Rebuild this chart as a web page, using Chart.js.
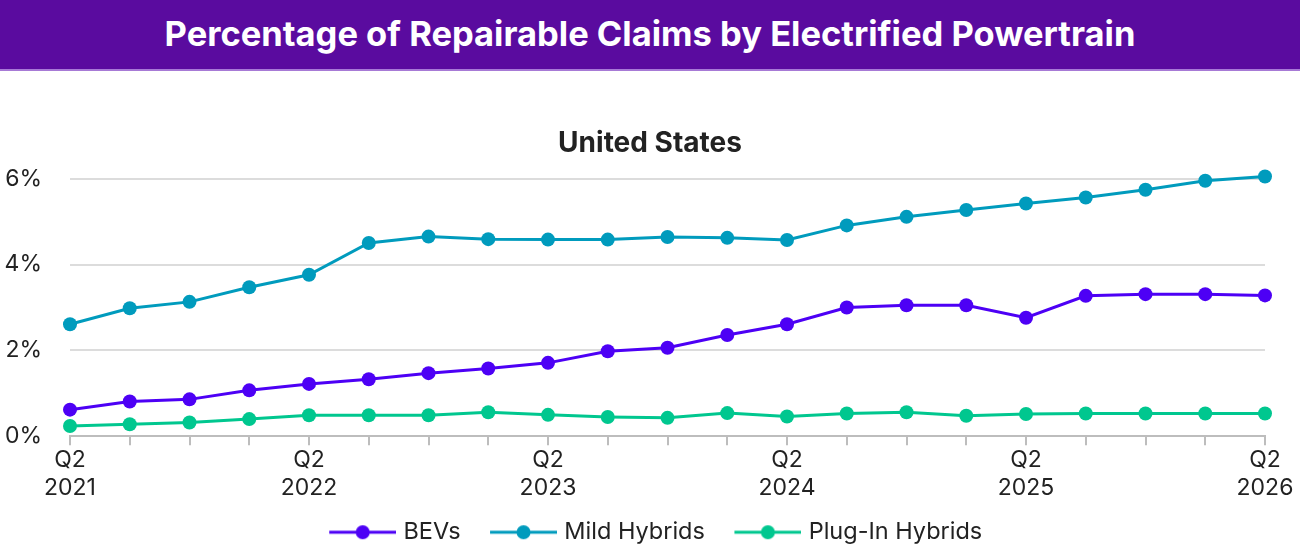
<!DOCTYPE html>
<html>
<head>
<meta charset="utf-8">
<script src="https://cdn.jsdelivr.net/npm/chart.js@4.4.1/dist/chart.umd.min.js"></script>
<style>
  body { margin: 0; background: #fff; font-family: Inter, sans-serif; }
  .banner {
    height: 69px; background: #5a0b9f; border-bottom: 2px solid #a77ad6;
    color: #fff; font-weight: 700; font-size: 34.5px; text-align: center; line-height: 68px;
  }
  .wrap { position: relative; width: 1300px; height: 489px; }
</style>
</head>
<body>
<div class="banner">Percentage of Repairable Claims by Electrified Powertrain</div>
<div class="wrap"><canvas id="chart"></canvas></div>
<script>
const quarters = ['Q2 2021','Q3 2021','Q4 2021','Q1 2022','Q2 2022','Q3 2022','Q4 2022','Q1 2023',
    'Q2 2023','Q3 2023','Q4 2023','Q1 2024','Q2 2024','Q3 2024','Q4 2024','Q1 2025',
    'Q2 2025','Q3 2025','Q4 2025','Q1 2026','Q2 2026'];
const bevs = [0.62, 0.81, 0.86, 1.07, 1.22, 1.33, 1.47, 1.58, 1.71, 1.98, 2.06,
    2.36, 2.61, 3.00, 3.05, 3.05, 2.76, 3.27, 3.31, 3.31, 3.28];
const mildHybrids = [2.61, 2.98, 3.13, 3.47, 3.76, 4.50, 4.65, 4.59, 4.58, 4.58, 4.64,
    4.62, 4.57, 4.91, 5.11, 5.27, 5.42, 5.56, 5.74, 5.95, 6.05];
const plugInHybrids = [0.24, 0.28, 0.32, 0.40, 0.49, 0.49, 0.49, 0.56, 0.50, 0.45, 0.43,
    0.54, 0.46, 0.53, 0.56, 0.48, 0.52, 0.53, 0.53, 0.53, 0.53];
const yTicks = [0, 2, 4, 6];

const colors = ['#4d00f5', '#009bbd', '#00c78f'];

// "line with dot" legend marker; drawn in the right part of the canvas so the
// gap between legend items comes out wider than the label padding
function legendMarker(color) {
    const c = document.createElement('canvas');
    c.width = 83; c.height = 16;
    const g = c.getContext('2d');
    g.strokeStyle = color; g.lineWidth = 3;
    g.beginPath(); g.moveTo(16, 8); g.lineTo(83, 8); g.stroke();
    g.fillStyle = color;
    g.beginPath(); g.arc(49.5, 8, 7, 0, Math.PI * 2); g.fill();
    return c;
}

function series(label, data, color) {
    return {
        label: label,
        data: data,
        borderColor: color,
        backgroundColor: color,
        borderWidth: 3,
        pointRadius: 7,
        pointHoverRadius: 7,
        pointBorderWidth: 0,
        tension: 0
    };
}

const ctx = document.getElementById('chart').getContext('2d');
new Chart(ctx, {
    type: 'line',
    data: {
        labels: quarters,
        datasets: [
            series('BEVs', bevs, colors[0]),
            series('Mild Hybrids', mildHybrids, colors[1]),
            series('Plug-In Hybrids', plugInHybrids, colors[2])
        ]
    },
    options: {
        responsive: true,
        maintainAspectRatio: false,
        animation: false,
        clip: false,
        layout: { padding: { left: 5, right: 5, top: 0, bottom: 6 } },
        plugins: {
            title: {
                display: true,
                text: 'United States',
                color: '#222',
                font: { family: 'Inter', size: 28, weight: '700' },
                padding: { top: 56, bottom: 18 }
            },
            legend: {
                position: 'bottom',
                labels: {
                    color: '#222',
                    font: { family: 'Inter', size: 23.5 },
                    usePointStyle: true,
                    pointStyleWidth: 74,
                    boxHeight: 16,
                    padding: 18,
                    generateLabels: chart => chart.data.datasets.map((ds, i) => ({
                        text: ds.label,
                        pointStyle: legendMarker(ds.borderColor),
                        fillStyle: ds.borderColor,
                        strokeStyle: ds.borderColor,
                        lineWidth: 0,
                        fontColor: '#222',
                        datasetIndex: i,
                        hidden: false
                    }))
                }
            },
            tooltip: { enabled: false }
        },
        scales: {
            x: {
                offset: false,
                afterFit: axis => { axis.paddingRight = 35; },
                border: { display: true, color: '#bdbdbd', width: 2 },
                grid: { display: true, drawOnChartArea: false, drawTicks: true, tickLength: 9, color: '#bdbdbd', lineWidth: 2 },
                ticks: {
                    autoSkip: false,
                    maxRotation: 0,
                    color: '#222',
                    font: { family: 'Inter', size: 23 },
                    padding: 1,
                    callback: function(value, index) {
                        if (index % 4 !== 0) return '';
                        return quarters[index].split(' ');
                    }
                }
            },
            y: {
                min: 0,
                max: 6,
                afterBuildTicks: axis => { axis.ticks = yTicks.map(v => ({ value: v })); },
                afterFit: axis => { axis.width = 65; },
                border: { display: false },
                grid: { color: '#dcdcdc', lineWidth: 2, drawTicks: false },
                ticks: {
                    color: '#222',
                    font: { family: 'Inter', size: 23 },
                    padding: 28,
                    callback: v => v + '%'
                }
            }
        }
    }
});
</script>
</body>
</html>
